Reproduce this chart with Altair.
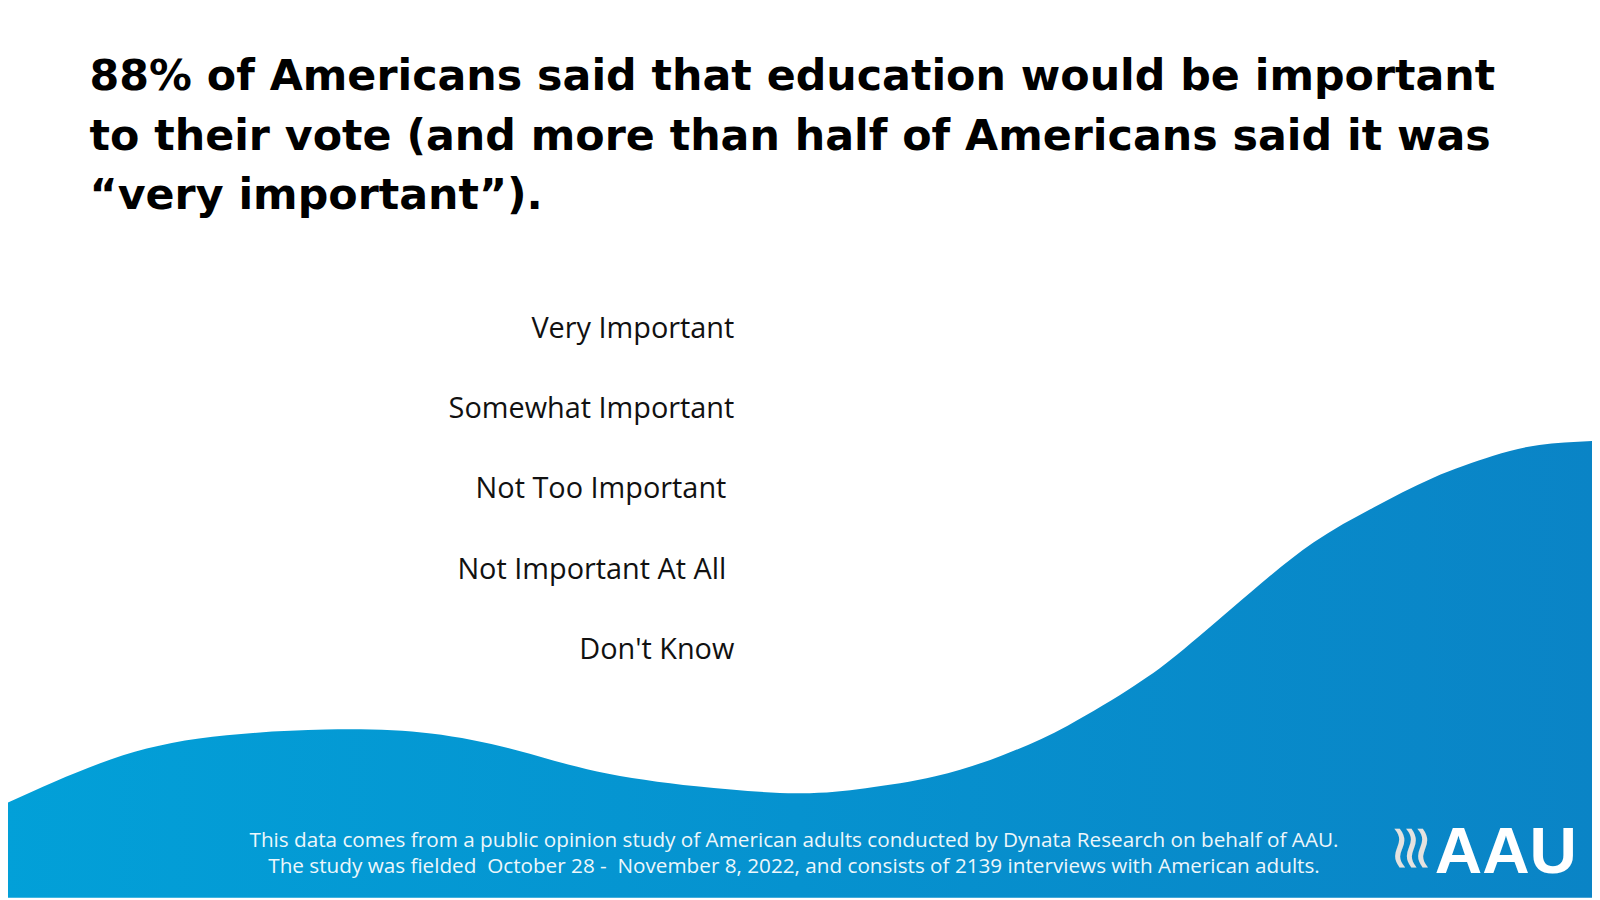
import altair as alt
import pandas as pd

# ---- text content ----
title_lines = [
    "88% of Americans said that education would be important",
    "to their vote (and more than half of Americans said it was",
    "\u201cvery important\u201d).",
]
footer_lines = [
    "This data comes from a public opinion study of American adults conducted by Dynata Research on behalf of AAU.",
    "The study was fielded\u00a0 October 28 -\u00a0 November 8, 2022, and consists of 2139 interviews with American adults.",
]
logo_text = "AAU"
helix_glyph = "\u224b"

# ---- chart data (this frame of the animation shows no bars drawn yet) ----
categories = ["Very Important", "Somewhat Important", "Not Too Important",
              "Not Important At All", "Don't Know"]
shares = [0, 0, 0, 0, 0]
shifted_labels = ["Not Too Important", "Not Important At All"]

# ---- decorative wave outline (reference pixel space 1600x900) ----
wave_x = [0, 100, 200, 327, 433, 520, 600, 700, 800, 870, 940, 1007, 1073,
          1140, 1190, 1257, 1320, 1380, 1440, 1500, 1547, 1600]
wave_y = [808, 765, 740, 731, 735, 752, 773, 788, 795, 790, 778, 757, 727,
          687, 650, 593, 543, 508, 478, 456, 445, 441]

W, H = 1592, 892
px = alt.Scale(domain=[0, 1600], range=[-8, 1592])
py = alt.Scale(domain=[0, 900], range=[-8, 892])

grad = alt.Gradient(
    gradient="linear",
    stops=[alt.GradientStop(color="#02a0d8", offset=0),
           alt.GradientStop(color="#0a84c6", offset=1)],
    x1=0, x2=1, y1=0, y2=0,
)

wave = alt.Chart(pd.DataFrame({"x": wave_x, "y": wave_y})).transform_calculate(
    floor="900"
).mark_area(
    interpolate="natural", color=grad
).encode(
    x=alt.X("x:Q", scale=px, axis=None),
    y=alt.Y("y:Q", scale=py, axis=None),
    y2="floor:Q",
)

df = pd.DataFrame({"category": categories, "share": shares})
cat_scale = alt.Scale(type="point", domain=categories, range=[320, 643], padding=0)

bars = alt.Chart(df).mark_bar(height=44, color="#0a84c6").encode(
    y=alt.Y("category:N", sort=categories, scale=cat_scale, axis=None),
    x=alt.X("share:Q", scale=alt.Scale(domain=[0, 100], range=[745, 1450]), axis=None),
)

label_style = dict(align="right", baseline="middle", font="Open Sans",
                   fontSize=29, color="#111111")

labels_main = alt.Chart(df).transform_filter(
    {"not": alt.FieldOneOfPredicate(field="category", oneOf=shifted_labels)}
).mark_text(**label_style).encode(
    y=alt.Y("category:N", sort=categories, scale=cat_scale, axis=None),
    x=alt.value(730),
    text="category:N",
)

labels_shift = alt.Chart(df).transform_filter(
    alt.FieldOneOfPredicate(field="category", oneOf=shifted_labels)
).mark_text(**label_style).encode(
    y=alt.Y("category:N", sort=categories, scale=cat_scale, axis=None),
    x=alt.value(722),
    text="category:N",
)

one = pd.DataFrame({"k": [0]})

title = alt.Chart(one).mark_text(
    text=title_lines, align="left", baseline="alphabetic", font="DejaVu Sans",
    fontWeight="bold", fontSize=43, lineHeight=60, color="#000000",
).encode(x=alt.value(82), y=alt.value(80))

footer = alt.Chart(one).mark_text(
    text=footer_lines, align="center", baseline="alphabetic", font="Open Sans",
    fontSize=20.8, lineHeight=26, color="#ffffff", opacity=0.93,
).encode(x=alt.value(790), y=alt.value(841))

logo = alt.Chart(one).mark_text(
    text=logo_text, align="left", baseline="alphabetic", font="Liberation Sans",
    fontWeight="bold", fontSize=66, color="#ffffff",
).encode(x=alt.value(1434), y=alt.value(867))

helix = alt.Chart(one).mark_text(
    text=helix_glyph, align="center", baseline="middle", angle=90,
    font="DejaVu Sans", fontSize=62, color="#e4e2df",
).encode(x=alt.value(1409), y=alt.value(842))

chart = alt.layer(
    wave, bars, labels_main, labels_shift, title, footer, helix, logo
).resolve_scale(
    x="independent", y="independent"
).properties(
    width=W, height=H, padding=0,
    autosize=alt.AutoSizeParams(type="none"), background="white",
).configure_view(stroke=None)

chart.save("out.html", embed_options={"renderer": "svg", "actions": False})
